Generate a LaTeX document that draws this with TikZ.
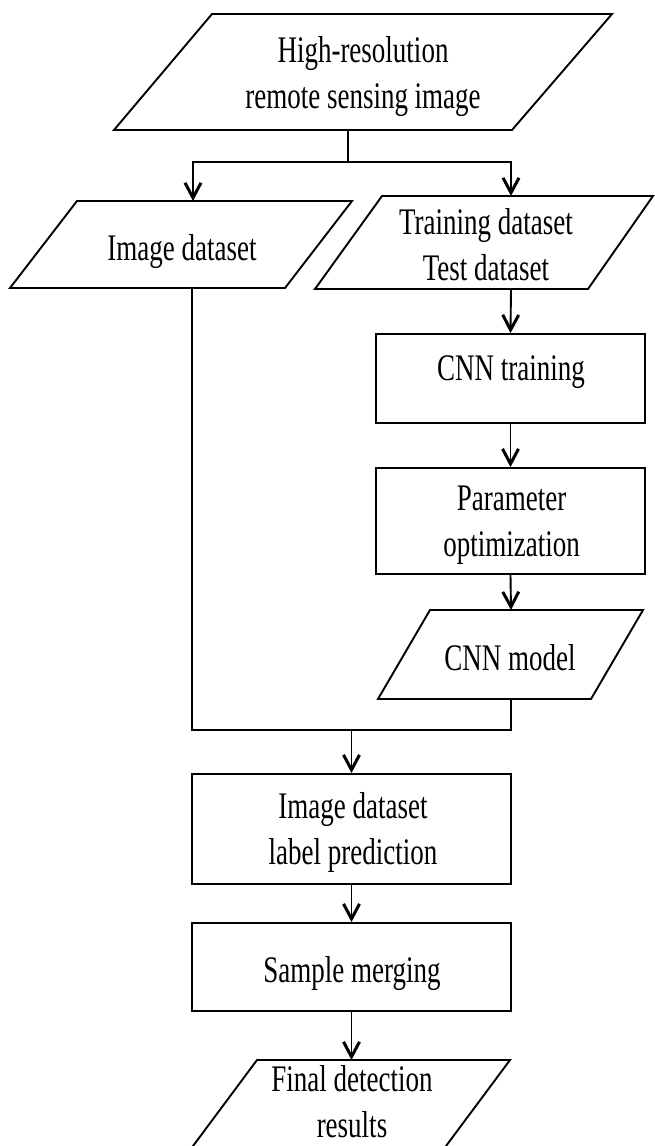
\documentclass[tikz,border=0pt]{standalone}
\usepackage{fontspec}
\setmainfont{Liberation Serif}[FakeStretch=0.72]
\usetikzlibrary{arrows.meta}
\begin{document}
\begin{tikzpicture}[x=1pt,y=-1pt,line width=1.9pt,line join=miter,
  lbl/.style={align=center,font=\fontsize{37.5}{46}\selectfont,inner sep=0pt},
  box/.style={draw,rectangle,inner sep=0pt},
  arr/.style={-{Straight Barb[length=15pt,width=16pt,line width=3pt]}}]
\useasboundingbox (0,0) rectangle (654,1146);
% parallelogram: top input
\draw (212,14) -- (612,14) -- (512,130) -- (114,130) -- cycle;
\node[lbl] (src) at (363,76.8) {High-resolution\\remote sensing image};
\coordinate (srcB) at (348,130);
\coordinate (split) at (348,162);
% image dataset
\draw (77,201) -- (352,201) -- (285,288) -- (10,288) -- cycle;
\node[lbl,anchor=base] (imgds) at (182,260) {Image dataset};
\coordinate (imgT) at (193,201);
\coordinate (imgB) at (192,288);
% training/test dataset
\draw (382,196) -- (653,196) -- (588,289) -- (315,289) -- cycle;
\node[lbl] (train) at (486,244.8) {Training dataset\\Test dataset};
\coordinate (trT) at (511,196);
\coordinate (trB) at (511,289);
% CNN training
\node[box,minimum width=269pt,minimum height=89pt] (cnnbox) at (510.5,378.5) {};
\node[lbl,anchor=base] (cnntxt) at (511,380) {CNN training};
% parameter optimization
\node[box,minimum width=269pt,minimum height=106pt] (parbox) at (510.5,521) {};
\node[lbl] (partxt) at (511.5,525.2) {Parameter\\optimization};
% CNN model
\draw (430,610) -- (643,610) -- (591,699) -- (378,699) -- cycle;
\node[lbl,anchor=base] (model) at (510,670) {CNN model};
\coordinate (modT) at (511,610);
\coordinate (modB) at (511,699);
% merge
\coordinate (mL) at (192,730);
\coordinate (mR) at (511,730);
\coordinate (mC) at (351.5,730);
% label prediction
\node[box,minimum width=319pt,minimum height=110pt] (predbox) at (351.5,829) {};
\node[lbl] (predtxt) at (353,832.8) {Image dataset\\label prediction};
% sample merging
\node[box,minimum width=319pt,minimum height=88pt] (mergebox) at (351.5,967) {};
\node[lbl,anchor=base] (mergetxt) at (352,982) {Sample merging};
% final
\draw (257,1060) -- (510,1060) -- (435.6,1160) -- (182.6,1160) -- cycle;
\node[lbl] (final) at (352,1102) {Final detection\\results};
\coordinate (finT) at (351.5,1060);
% connectors
\draw (srcB) -- (split);
\draw[arr] (split) -| (imgT);
\draw[arr] (split) -| (trT);
\draw[arr] (trB) -- (cnnbox.north);
\draw[arr] (cnnbox.south) -- (parbox.north);
\draw[arr] (parbox.south) -- (modT);
\draw (imgB) -- (mL) -- (mR) -- (modB);
\draw[arr] (mC) -- (predbox.north);
\draw[arr] (predbox.south) -- (mergebox.north);
\draw[arr] (mergebox.south) -- (finT);
\end{tikzpicture}
\end{document}
